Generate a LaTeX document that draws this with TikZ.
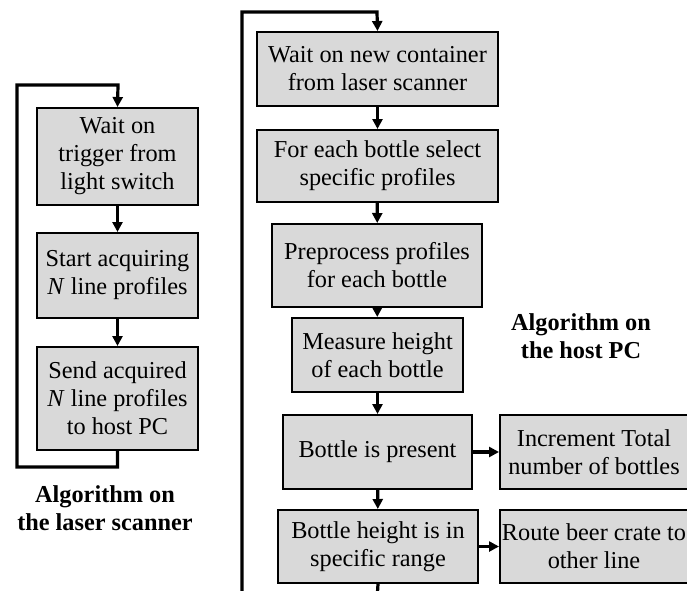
\documentclass[tikz,border=0pt]{standalone}
\usepackage{fontspec}
\setmainfont{Liberation Serif}
\usetikzlibrary{arrows.meta}
\tikzset{
  stepbox/.style={draw=black, line width=2pt, fill=gray!30, inner sep=0pt,
    align=center, font=\fontsize{24.3}{28}\selectfont},
  flow/.style={line width=3.2pt, -{Triangle[width=10pt,length=10pt]}},
  plain/.style={line width=3.2pt},
  caption/.style={align=center, font=\fontsize{24.3}{28}\selectfont\bfseries}
}
\begin{document}
\begin{tikzpicture}[x=1pt,y=-1pt]
\useasboundingbox (0,0) rectangle (687,590);
\clip (0,0) rectangle (687,590);
\fill[white] (0,0) rectangle (687,590);

% laser scanner loop
\node[stepbox, minimum width=161pt, minimum height=97pt] (L1) at (117.5,156.5) {Wait on\\trigger from\\light switch};
\node[stepbox, minimum width=161pt, minimum height=85pt] (L2) at (117.5,275.5) {Start acquiring\\\textit{N} line profiles};
\node[stepbox, minimum width=161pt, minimum height=103pt] (L3) at (117.5,398.5) {Send acquired\\\textit{N} line profiles\\to host PC};
\coordinate (lb) at (17,467);
\coordinate (lt) at (118,85);
\draw[flow] (L1) -- (L2);
\draw[flow] (L2) -- (L3);
\draw[flow] (L3.south) |- (lb) |- (lt) -- (L1.north);
\node[caption] (lcap) at (105,508) {Algorithm on\\the laser scanner};

% host PC loop
\node[stepbox, minimum width=241pt, minimum height=74pt] (A) at (377.5,69) {Wait on new container\\from laser scanner};
\node[stepbox, minimum width=241pt, minimum height=72pt] (B) at (377.5,166) {For each bottle select\\specific profiles};
\node[stepbox, minimum width=210pt, minimum height=83pt] (C) at (377,265.5) {Preprocess profiles\\for each bottle};
\node[stepbox, minimum width=171pt, minimum height=74pt] (D) at (377.5,355) {Measure height\\of each bottle};
\node[stepbox, minimum width=189pt, minimum height=74pt] (E) at (377.5,452) {Bottle is present};
\node[stepbox, minimum width=200pt, minimum height=73pt] (F) at (378,546.5) {Bottle height is in\\specific range};
\node[stepbox, minimum width=188pt, minimum height=74pt] (G) at (594,452) {Increment Total\\number of bottles};
\node[stepbox, minimum width=188pt, minimum height=73pt] (H) at (594,546.5) {Route beer crate to\\other line};
\coordinate (rin) at (242,600);
\coordinate (rt) at (377,12);
\coordinate (fout) at (377,600);
\draw[flow] (A) -- (B);
\draw[flow] (B) -- (C);
\draw[flow] (C) -- (D);
\draw[flow] (D) -- (E);
\draw[flow] (E) -- (G);
\draw[flow] (E) -- (F);
\draw[flow] (F) -- (H);
\draw[plain] (F.south) -- (fout);
\draw[flow] (rin) |- (rt) -- (A.north);
\node[caption] (rcap) at (581,336) {Algorithm on\\the host PC};
\end{tikzpicture}
\end{document}
